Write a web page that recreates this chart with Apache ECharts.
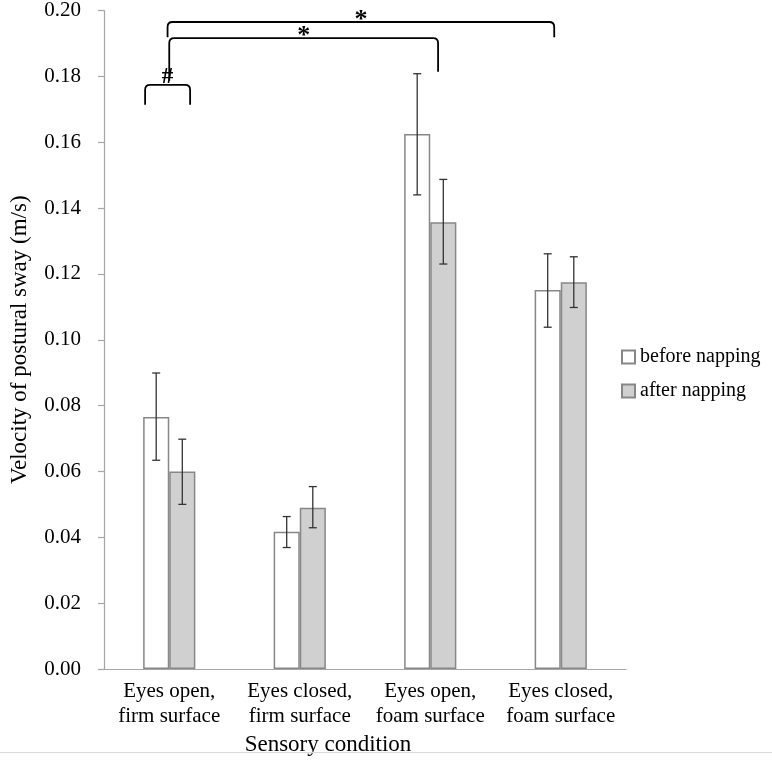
<!DOCTYPE html>
<html>
<head>
<meta charset="utf-8">
<script src="https://cdn.jsdelivr.net/npm/echarts@6/dist/echarts.min.js"></script>
<style>
  html, body { margin: 0; padding: 0; background: #fff; }
  #chart { width: 772px; height: 763px; }
</style>
</head>
<body>
<div id="chart"></div>
<script>
// values
const conditions = ["Eyes open,\nfirm surface", "Eyes closed,\nfirm surface", "Eyes open,\nfoam surface", "Eyes closed,\nfoam surface"];
const yTicks = [0, 0.2, 0.02];

const before = [0.0765, 0.0417, 0.1625, 0.1151];
const beforeLow = [0.0634, 0.0369, 0.144, 0.1038];
const beforeHigh = [0.0899, 0.0463, 0.1808, 0.1261];

const after = [0.060, 0.049, 0.1357, 0.1175];
const afterLow = [0.050, 0.0429, 0.123, 0.1098];
const afterHigh = [0.0698, 0.0554, 0.1487, 0.1252];

// significance brackets (x in category units, 0 = first category centre)
const bracketLabel = ["#", "*", "*"];
const bracketFrom = [-0.185, 0.0, -0.013];
const bracketTo = [0.16, 2.06, 2.95];
const bracketTop = [0.1774, 0.1916, 0.1965];
const bracketLegL = [0.1714, 0.1787, 0.1919];
const bracketLegR = [0.1714, 0.1814, 0.1919];

const FONT = "Liberation Serif, Times New Roman, serif";
const chart = echarts.init(document.getElementById("chart"));

function errorSeries(name, lows, highs, side) {
  return {
    type: "custom",
    name: name + " err",
    z: 5,
    silent: true,
    data: lows.map((l, i) => [i, l, highs[i]]),
    encode: { x: 0, y: [1, 2] },
    renderItem: function (params, api) {
      const catW = api.size([1, 0])[0];
      const lo = api.coord([api.value(0), api.value(1)]);
      const hi = api.coord([api.value(0), api.value(2)]);
      const x = lo[0] + side * catW * 0.1;
      const cap = 4;
      const st = { stroke: "#333", lineWidth: 1.3 };
      return {
        type: "group",
        children: [
          { type: "line", shape: { x1: x, y1: lo[1], x2: x, y2: hi[1] }, style: st },
          { type: "line", shape: { x1: x - cap, y1: lo[1], x2: x + cap, y2: lo[1] }, style: st },
          { type: "line", shape: { x1: x - cap, y1: hi[1], x2: x + cap, y2: hi[1] }, style: st }
        ]
      };
    }
  };
}

const bracketSeries = {
  type: "custom",
  name: "brackets",
  silent: true,
  z: 6,
  data: bracketLabel.map((l, i) => [bracketFrom[i], bracketTop[i], bracketTo[i], bracketLegL[i], bracketLegR[i]]),
  encode: { x: 0, y: 1 },
  renderItem: function (params, api) {
    const i = params.dataIndex;
    const catW = api.size([1, 0])[0];
    const x0 = api.coord([0, 0])[0];
    const xl = x0 + api.value(0) * catW;
    const xr = x0 + api.value(2) * catW;
    const yt = api.coord([0, api.value(1)])[1];
    const yl = api.coord([0, api.value(3)])[1];
    const yr = api.coord([0, api.value(4)])[1];
    const r = 5;
    const d = "M" + xl + " " + yl + " L" + xl + " " + (yt + r) +
      " Q" + xl + " " + yt + " " + (xl + r) + " " + yt +
      " L" + (xr - r) + " " + yt +
      " Q" + xr + " " + yt + " " + xr + " " + (yt + r) +
      " L" + xr + " " + yr;
    const isHash = bracketLabel[i] === "#";
    return {
      type: "group",
      children: [
        { type: "path", shape: { pathData: d }, style: { fill: null, stroke: "#000", lineWidth: 1.8 } },
        {
          type: "text",
          x: (xl + xr) / 2,
          y: isHash ? yt - 8 : yt - 2,
          style: {
            text: bracketLabel[i],
            font: (isHash ? "bold 23px " : "bold 26px ") + FONT,
            fill: "#000",
            textAlign: "center",
            textVerticalAlign: "middle"
          }
        }
      ]
    };
  }
};

chart.setOption({
  animation: false,
  backgroundColor: "#fff",
  textStyle: { fontFamily: FONT },
  grid: { left: 103, right: 146, top: 7, bottom: 94, containLabel: false },
  legend: {
    orient: "vertical",
    left: 616,
    top: 342,
    itemWidth: 13,
    itemHeight: 13,
    itemGap: 14,
    icon: "rect",
    data: ["before napping", "after napping"],
    textStyle: { fontFamily: FONT, fontSize: 20, color: "#000" }
  },
  xAxis: {
    type: "category",
    data: conditions,
    axisTick: { show: false },
    axisLine: { lineStyle: { color: "#a6a6a6", width: 1.2 } },
    axisLabel: { fontFamily: FONT, fontSize: 21, color: "#000", lineHeight: 25, margin: 10, interval: 0 }
  },
  yAxis: {
    type: "value",
    min: yTicks[0],
    max: yTicks[1],
    interval: yTicks[2],
    name: "Velocity of postural sway (m/s)",
    nameLocation: "middle",
    nameGap: 73,
    nameTextStyle: { fontFamily: FONT, fontSize: 23, color: "#000" },
    splitLine: { show: false },
    axisLine: { show: true, lineStyle: { color: "#a6a6a6", width: 1.2 } },
    axisTick: { show: true, length: 6, lineStyle: { color: "#a6a6a6", width: 1.2 } },
    axisLabel: {
      fontFamily: FONT, fontSize: 21, color: "#000", margin: 23,
      formatter: v => v.toFixed(2)
    }
  },
  graphic: [
    {
      type: "text", x: 328, y: 745,
      style: { text: "Sensory condition", font: "23px " + FONT, fill: "#000", textAlign: "center", textVerticalAlign: "middle" }
    },
    {
      type: "line", shape: { x1: 0, y1: 752.5, x2: 772, y2: 752.5 },
      style: { stroke: "#d9d9d9", lineWidth: 1 }
    }
  ],
  series: [
    {
      name: "before napping",
      type: "bar",
      data: before,
      barWidth: "20%",
      barGap: "0%",
      itemStyle: { color: "#ffffff", borderColor: "#878787", borderWidth: 1.5 }
    },
    {
      name: "after napping",
      type: "bar",
      data: after,
      barWidth: "20%",
      barGap: "0%",
      itemStyle: { color: "#d0d0d0", borderColor: "#878787", borderWidth: 1.5 }
    },
    errorSeries("before napping", beforeLow, beforeHigh, -1),
    errorSeries("after napping", afterLow, afterHigh, 1),
    bracketSeries
  ]
});
</script>
</body>
</html>
